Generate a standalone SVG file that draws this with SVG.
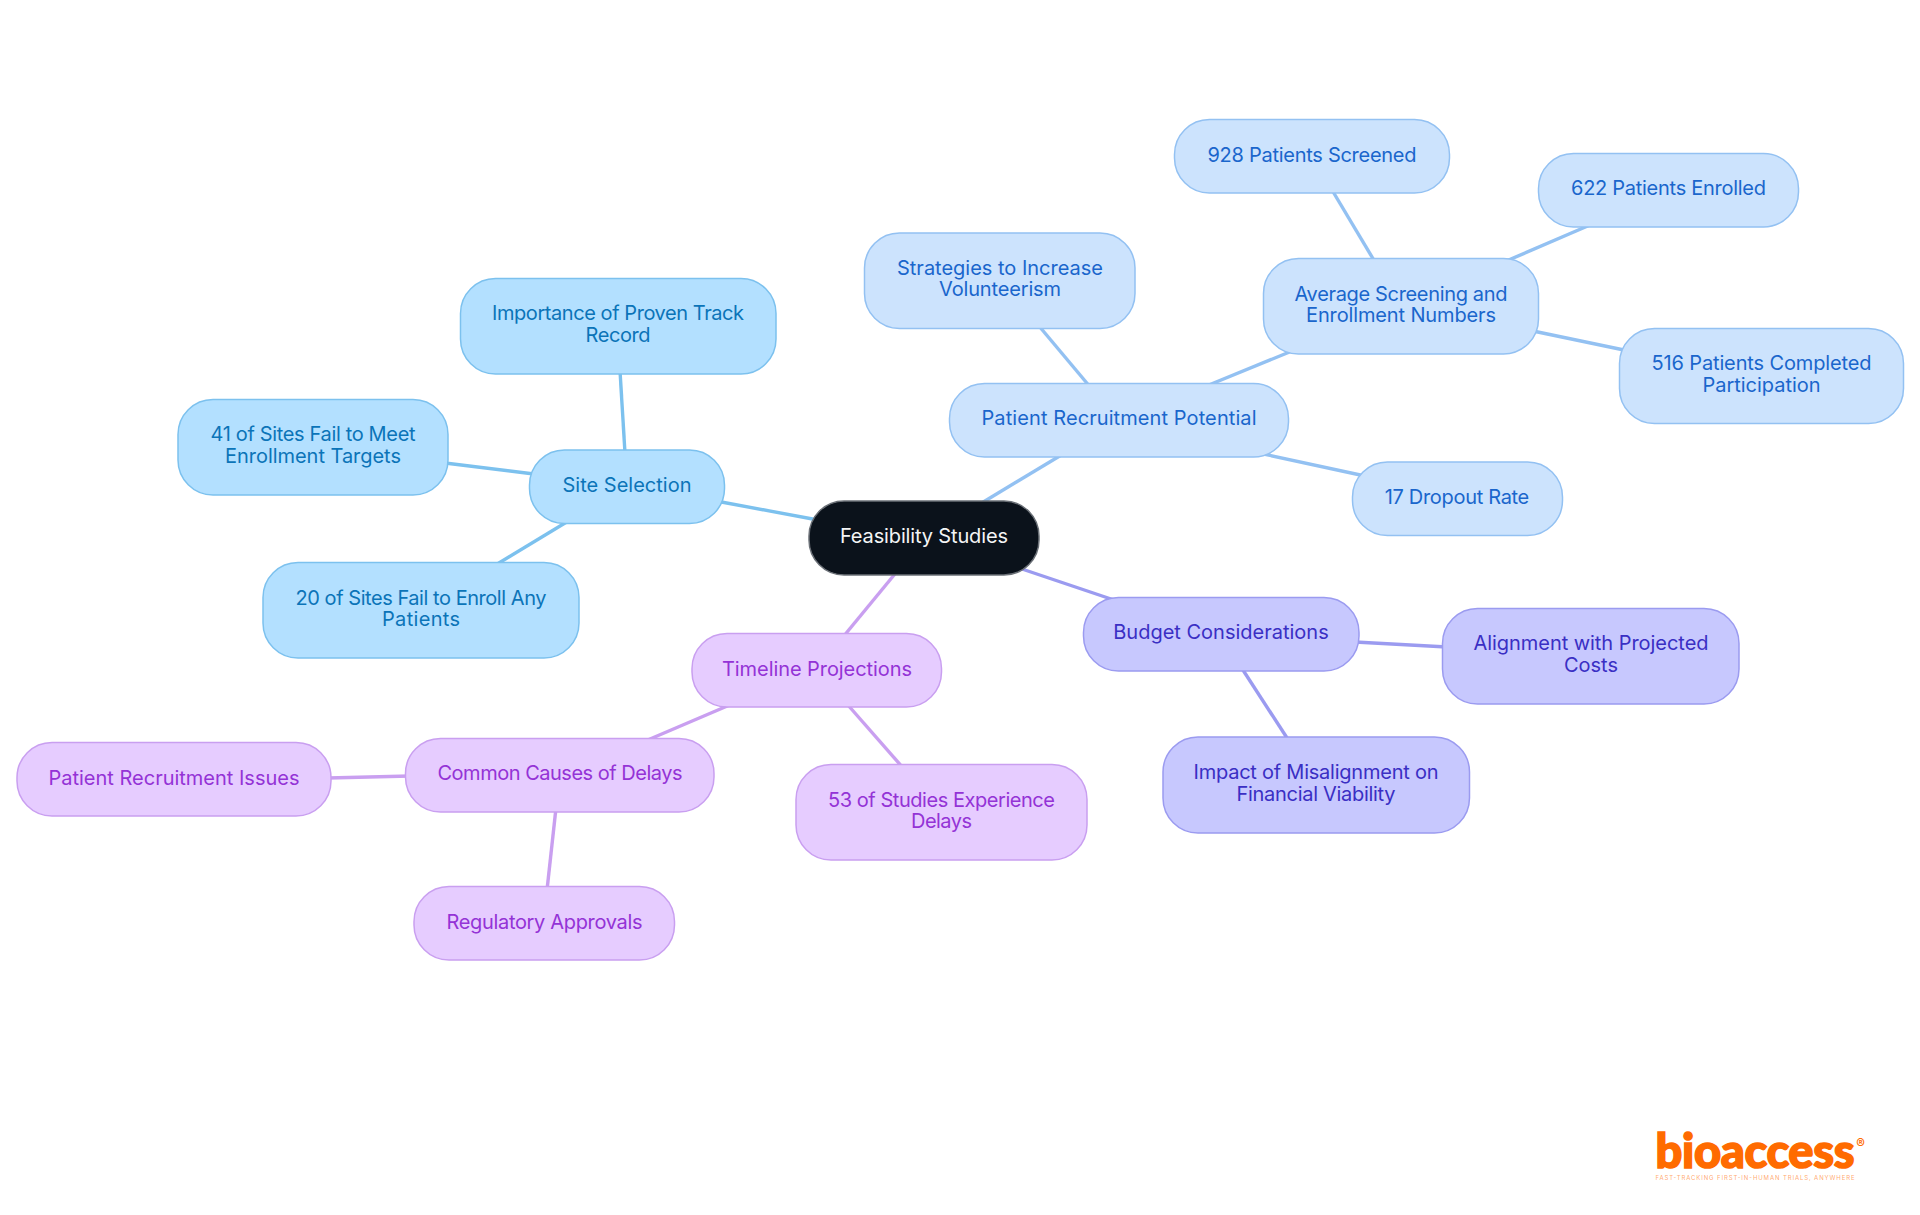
<svg xmlns="http://www.w3.org/2000/svg" width="1920" height="1215" viewBox="0 0 1920 1215">
<style>
text{font-family:"Inter","Noto Sans","Liberation Sans",sans-serif;font-size:20px;text-anchor:middle}
rect{stroke-width:1.5}
line{stroke-width:3.4;fill:none}
.r rect{fill:#0b121b;stroke:#6b7077}.r text{fill:#f4f5f6}
.s rect{fill:#b3e0ff;stroke:#7cc1ee}.s text{fill:#0b74b8}
.p rect{fill:#cce3fd;stroke:#93c1f2}.p text{fill:#1a66cc}
.b rect{fill:#c7c8fe;stroke:#9b9bf0}.b text{fill:#3a2fc4}
.t rect{fill:#e6ccff;stroke:#c99ff0}.t text{fill:#9433d6}
.ls{stroke:#7cc1ee}.lp{stroke:#93c1f2}.lb{stroke:#9b9bf0}.lt{stroke:#c99ff0}
.logo{fill:#ff6b00}
</style>
<g id="connectors">
<line class="ls" x1="716" y1="501" x2="818" y2="520"/>
<line class="lp" x1="980" y1="504" x2="1063" y2="454"/>
<line class="lb" x1="1019" y1="568" x2="1117" y2="601"/>
<line class="lt" x1="899" y1="569" x2="843" y2="637"/>
<line class="lp" x1="1039" y1="326" x2="1091" y2="388"/>
<line class="lp" x1="1204" y1="387" x2="1292" y2="351"/>
<line class="lp" x1="1259" y1="453" x2="1365" y2="476"/>
<line class="lp" x1="1332" y1="190" x2="1375" y2="262"/>
<line class="lp" x1="1504" y1="262" x2="1590" y2="225"/>
<line class="lp" x1="1533" y1="331" x2="1624" y2="350"/>
<line class="ls" x1="620" y1="371" x2="625" y2="453"/>
<line class="ls" x1="445" y1="463" x2="534" y2="474"/>
<line class="ls" x1="494" y1="566" x2="570" y2="520"/>
<line class="lt" x1="643" y1="742" x2="732" y2="704"/>
<line class="lt" x1="847" y1="704" x2="904" y2="769"/>
<line class="lt" x1="328" y1="778" x2="410" y2="776"/>
<line class="lt" x1="556" y1="808" x2="547" y2="890"/>
<line class="lb" x1="1355" y1="642" x2="1447" y2="647"/>
<line class="lb" x1="1241" y1="667" x2="1289" y2="741"/>
</g>
<g id="n-root" class="r"><rect x="809" y="501" width="230" height="74" rx="35"/><text x="924" y="543" textLength="168">Feasibility Studies</text></g>
<g id="n-site" class="s"><rect x="529.500" y="450" width="195" height="73.500" rx="35"/><text x="627" y="492" textLength="129">Site Selection</text></g>
<g id="n-proven" class="s"><rect x="460.500" y="278.500" width="315.500" height="95.500" rx="35"/><text x="618" y="320" textLength="252">Importance of Proven Track</text><text x="618" y="342" textLength="65">Record</text></g>
<g id="n-41" class="s"><rect x="178" y="399.500" width="270" height="95.500" rx="35"/><text x="313" y="441" textLength="205">41 of Sites Fail to Meet</text><text x="313" y="463" textLength="176">Enrollment Targets</text></g>
<g id="n-20" class="s"><rect x="263" y="562.500" width="316" height="95.500" rx="35"/><text x="421" y="604.500" textLength="251">20 of Sites Fail to Enroll Any</text><text x="421" y="626" textLength="78">Patients</text></g>
<g id="n-recruit" class="p"><rect x="949.500" y="383.500" width="339" height="73.500" rx="35"/><text x="1119" y="425" textLength="275">Patient Recruitment Potential</text></g>
<g id="n-strategies" class="p"><rect x="864.500" y="233" width="270.500" height="95.500" rx="35"/><text x="1000" y="275" textLength="206">Strategies to Increase</text><text x="1000" y="296" textLength="122">Volunteerism</text></g>
<g id="n-average" class="p"><rect x="1263.500" y="258.500" width="275" height="95.500" rx="35"/><text x="1401" y="301" textLength="213">Average Screening and</text><text x="1401" y="322" textLength="190">Enrollment Numbers</text></g>
<g id="n-928" class="p"><rect x="1174.500" y="119.500" width="275" height="73.500" rx="35"/><text x="1312" y="161.500" textLength="209">928 Patients Screened</text></g>
<g id="n-622" class="p"><rect x="1538.500" y="153.500" width="260" height="73.500" rx="35"/><text x="1668.500" y="195" textLength="195">622 Patients Enrolled</text></g>
<g id="n-516" class="p"><rect x="1619.500" y="328.500" width="284" height="95" rx="35"/><text x="1761.500" y="370" textLength="220">516 Patients Completed</text><text x="1761.500" y="392" textLength="118">Participation</text></g>
<g id="n-17" class="p"><rect x="1352.500" y="462" width="210" height="73.500" rx="35"/><text x="1457" y="504" textLength="144.500">17 Dropout Rate</text></g>
<g id="n-budget" class="b"><rect x="1083.500" y="597.500" width="275.500" height="73.500" rx="35"/><text x="1221" y="639" textLength="215.500">Budget Considerations</text></g>
<g id="n-align" class="b"><rect x="1442.500" y="608.500" width="296.500" height="95.500" rx="35"/><text x="1591" y="649.500" textLength="235">Alignment with Projected</text><text x="1591" y="671.500" textLength="54">Costs</text></g>
<g id="n-impact" class="b"><rect x="1163" y="737" width="306.500" height="96" rx="35"/><text x="1316" y="778.500" textLength="245">Impact of Misalignment on</text><text x="1316" y="800.500" textLength="159">Financial Viability</text></g>
<g id="n-timeline" class="t"><rect x="692" y="633.500" width="249.500" height="73.500" rx="35"/><text x="817" y="676" textLength="190">Timeline Projections</text></g>
<g id="n-common" class="t"><rect x="405.500" y="738.500" width="308.500" height="73.500" rx="35"/><text x="560" y="780" textLength="245">Common Causes of Delays</text></g>
<g id="n-issues" class="t"><rect x="17" y="742.500" width="314" height="73.500" rx="35"/><text x="174" y="785" textLength="251">Patient Recruitment Issues</text></g>
<g id="n-reg" class="t"><rect x="414" y="886.500" width="260.500" height="73.500" rx="35"/><text x="544.500" y="929" textLength="196">Regulatory Approvals</text></g>
<g id="n-53" class="t"><rect x="796" y="764.500" width="291" height="95.500" rx="35"/><text x="941.500" y="806.500" textLength="227">53 of Studies Experience</text><text x="941.500" y="828" textLength="61">Delays</text></g>
<g id="logo">
<text class="logo" x="1755" y="1167.500" textLength="199" style="font-family:'Lato','Inter',sans-serif;font-size:47px;font-weight:900;stroke:#ff6b00;stroke-width:1.6px">bioaccess</text>
<text class="logo" x="1860.500" y="1148" style="font-size:13px;font-weight:700">®</text>
<text class="logo" x="1755" y="1179.500" textLength="199" style="font-size:6px;fill-opacity:.6">FAST-TRACKING FIRST-IN-HUMAN TRIALS, ANYWHERE</text>
</g>
</svg>
